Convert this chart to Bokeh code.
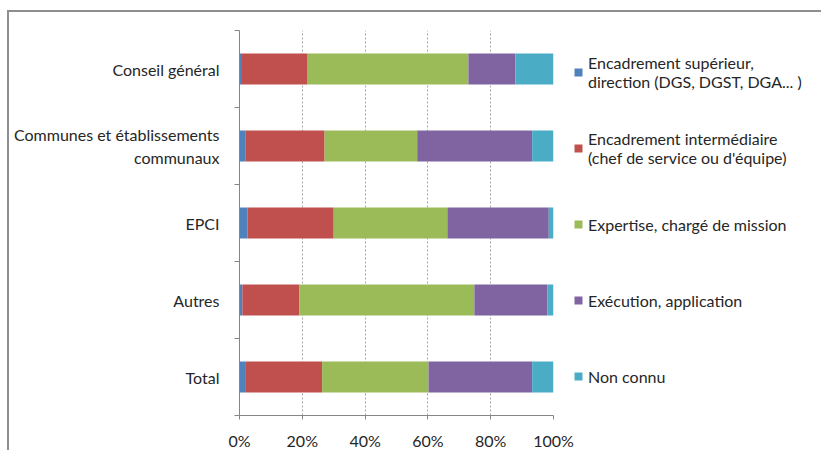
from bokeh.plotting import figure
from bokeh.models import (ColumnDataSource, Range1d, FactorRange, LinearAxis,
                          FixedTicker, Legend, LegendItem)
from bokeh.embed import file_html
from bokeh.resources import INLINE

categories = ["Conseil général", "Communes et établissements\ncommunaux", "EPCI", "Autres", "Total"]
series_labels = ["Encadrement supérieur,\ndirection (DGS, DGST, DGA... )",
                 "Encadrement intermédiaire\n(chef de service ou d'équipe)",
                 "Expertise, chargé de mission",
                 "Exécution, application",
                 "Non connu"]
superieur = [0.5, 2.0, 2.6, 0.9, 1.8]
intermediaire = [21.2, 25.1, 27.4, 18.1, 24.5]
expertise = [51.2, 29.5, 36.2, 55.8, 33.9]
execution = [15.0, 36.6, 32.3, 23.2, 33.0]
non_connu = [12.1, 6.8, 1.5, 2.0, 6.8]
colors = ["#4F81BD", "#C0504D", "#9BBB59", "#8064A2", "#4BACC6"]
x_ticks = [0, 20, 40, 60, 80, 100]
x_tick_labels = ["0%", "20%", "40%", "60%", "80%", "100%"]

FONT = "Lato"
FS = "16px"
TXT = "#262626"
AX = "#868686"
BORDER = "#8f8f8f"

keys = ["s0", "s1", "s2", "s3", "s4"]
source = ColumnDataSource(dict(cat=categories, s0=superieur, s1=intermediaire,
                               s2=expertise, s3=execution, s4=non_connu))

factors = list(reversed(categories))
p = figure(frame_width=314, frame_height=385, output_backend="svg", toolbar_location=None,
           y_range=FactorRange(factors=factors, range_padding=0),
           x_range=Range1d(0, 100), y_axis_location=None,
           min_border_left=239, min_border_right=0, min_border_top=30,
           min_border_bottom=35)
p.outline_line_color = None
p.border_fill_color = None
p.styles = {
    "background-image": f"linear-gradient({BORDER},{BORDER}), linear-gradient({BORDER},{BORDER})",
    "background-position": "7px 10px, 7px 10px",
    "background-size": "2px 100%, 100% 2px",
    "background-repeat": "no-repeat, no-repeat",
}

renderers = p.hbar_stack(keys, y="cat", height=0.4, source=source, color=colors,
                         line_color=None)

# y axis: labels at band centres (synthetic coords), ticks at band boundaries
yax = LinearAxis(ticker=FixedTicker(ticks=[i + 0.5 for i in range(len(factors))],
                                    minor_ticks=list(range(len(factors) + 1))),
                 major_label_overrides={i + 0.5: f for i, f in enumerate(factors)})
yax.major_tick_out = 0
yax.major_tick_in = 0
yax.minor_tick_out = 5
yax.minor_tick_in = 0
yax.minor_tick_line_color = AX
yax.axis_line_color = AX
yax.major_label_standoff = 15
yax.major_label_text_font = FONT
yax.major_label_text_font_size = FS
yax.major_label_text_color = TXT
p.add_layout(yax, "left")

xax = p.xaxis[0]
xax.ticker = FixedTicker(ticks=x_ticks, minor_ticks=[])
xax.major_label_overrides = {t: l for t, l in zip(x_ticks, x_tick_labels)}
xax.major_tick_out = 4
xax.major_tick_in = 0
xax.major_tick_line_color = AX
xax.axis_line_color = AX
xax.major_label_standoff = 11
xax.major_label_text_font = FONT
xax.major_label_text_font_size = FS
xax.major_label_text_color = TXT

p.ygrid.grid_line_color = None
p.xgrid.ticker = FixedTicker(ticks=x_ticks)
p.xgrid.grid_line_color = "#a6a6a6"
p.xgrid.grid_line_dash = "2 2"

legend = Legend(items=[LegendItem(label=lab, renderers=[r]) for lab, r in zip(series_labels, renderers)],
                location="top_left", margin=20, padding=18, spacing=32,
                glyph_width=10, glyph_height=10, label_height=44,
                label_standoff=5, label_text_font=FONT, label_text_font_size=FS,
                label_text_color=TXT,
                border_line_color=None, background_fill_alpha=0)
p.add_layout(legend, "right")

open("out.html", "w").write(file_html(p, INLINE))
